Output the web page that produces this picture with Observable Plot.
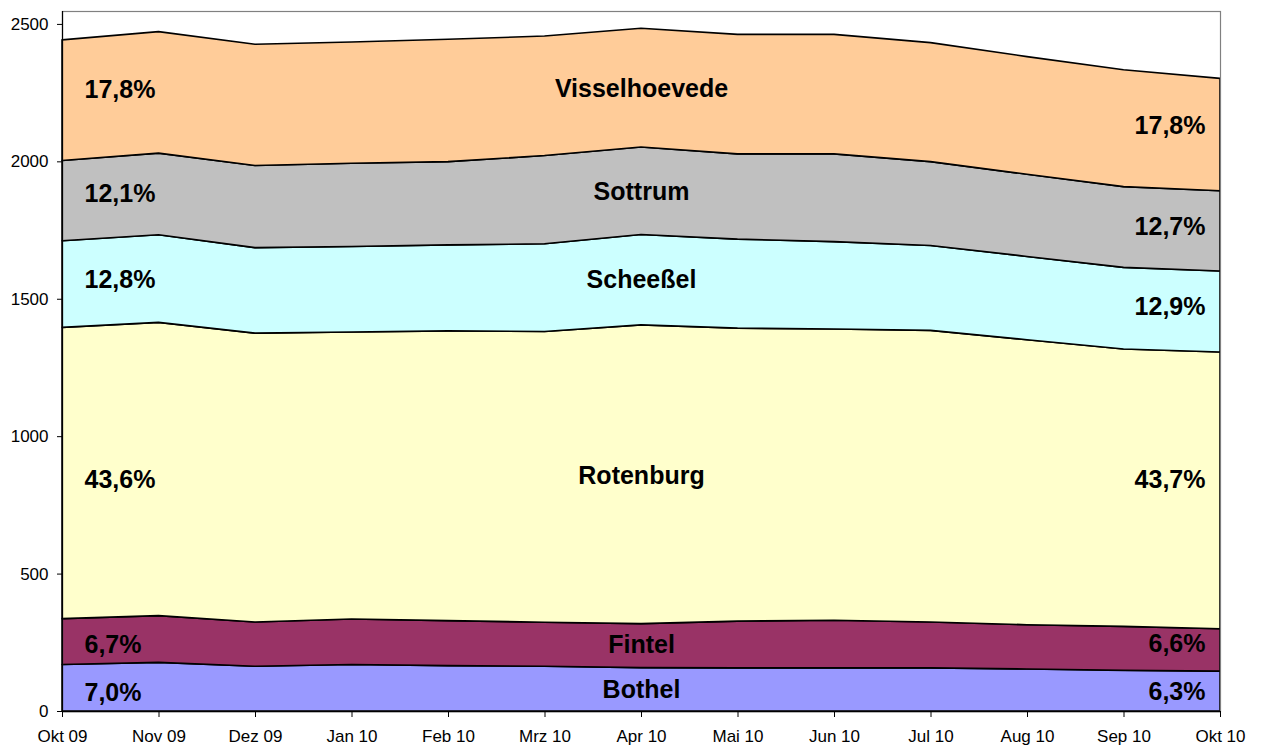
<!DOCTYPE html>
<html>
<head>
<meta charset="utf-8">
<script src="https://cdn.jsdelivr.net/npm/d3@7"></script>
<script src="https://cdn.jsdelivr.net/npm/@observablehq/plot@0.6"></script>
<style>
  html, body { margin: 0; padding: 0; background: white; }
</style>
</head>
<body>
<div id="chart"></div>
<script>
const months = ["Okt 09","Nov 09","Dez 09","Jan 10","Feb 10","Mrz 10","Apr 10","Mai 10","Jun 10","Jul 10","Aug 10","Sep 10","Okt 10"];
const seriesNames = ["Bothel","Fintel","Rotenburg","Scheeßel","Sottrum","Visselhoevede"];
const bothel        = [169,177,163,169,165,163,158,157,157,157,153,148,145];
const fintel        = [167,170,161,166,164,160,160,170,173,167,161,160,154];
const rotenburg     = [1060,1067,1051,1044,1054,1058,1087,1066,1060,1061,1037,1009,1007];
const scheessel     = [315,319,311,311,313,319,329,324,318,309,303,297,295];
const sottrum       = [292,297,299,303,303,321,318,310,319,305,299,294,292];
const visselhoevede = [439,442,441,441,445,435,432,435,435,433,428,425,409];
const colors = ["#9999FF","#993366","#FFFFCC","#CCFFFF","#C0C0C0","#FFCC99"];
const yTicks = [0,500,1000,1500,2000,2500];

// share labels (first month / last month) and series names
const leftShares  = ["7,0%","6,7%","43,6%","12,8%","12,1%","17,8%"];
const rightShares = ["6,3%","6,6%","43,7%","12,9%","12,7%","17,8%"];
// label anchor heights in data units
const leftAnchor   = [67,242,842,1569,1882,2260];
const centerAnchor = [78,242,856,1569,1889,2264];
const rightAnchor  = [71,244,842,1471,1762,2129];

const values = [bothel, fintel, rotenburg, scheessel, sottrum, visselhoevede];
const rows = [];
seriesNames.forEach((s, k) => values[k].forEach((v, i) => rows.push({i, series: s, value: v})));

const leftRows = seriesNames.map((s, k) => ({text: leftShares[k], y: leftAnchor[k]}));
const rightRows = seriesNames.map((s, k) => ({text: rightShares[k], y: rightAnchor[k]}));
const centerRows = seriesNames.map((s, k) => ({text: s, y: centerAnchor[k]}));

const chart = Plot.plot({
  width: 1262,
  height: 746,
  marginLeft: 62,
  marginRight: 42,
  marginTop: 11,
  marginBottom: 35,
  style: {fontFamily: "'Liberation Sans', Arial, sans-serif", fontSize: "17px", background: "white", color: "black"},
  x: {domain: [0, 12], label: null},
  y: {domain: [0, 2547], label: null},
  color: {domain: seriesNames, range: colors},
  marks: [
    Plot.areaY(rows, {x: "i", y: "value", fill: "series", order: seriesNames, stroke: "black", strokeWidth: 1.6, strokeLinejoin: "round"}),
    Plot.frame({stroke: "#808080", strokeWidth: 1.2}),
    Plot.ruleX([0], {stroke: "black", strokeWidth: 1.2}),
    Plot.ruleY([0], {stroke: "black", strokeWidth: 1.6}),
    Plot.axisY({ticks: yTicks, tickSize: 5, tickPadding: 9, tickFormat: d3.format("d"), fontSize: 17, label: null}),
    Plot.axisX({ticks: d3.range(months.length), tickSize: 6, tickPadding: 12, tickFormat: i => months[i], fontSize: 17, label: null}),
    Plot.text(leftRows, {x: 0, y: "y", text: "text", textAnchor: "start", dx: 22, fontWeight: "bold", fontSize: 25}),
    Plot.text(rightRows, {x: 12, y: "y", text: "text", textAnchor: "end", dx: -15, fontWeight: "bold", fontSize: 25}),
    Plot.text(centerRows, {x: 6, y: "y", text: "text", textAnchor: "middle", fontWeight: "bold", fontSize: 25})
  ]
});
document.getElementById("chart").appendChild(chart);
</script>
</body>
</html>
